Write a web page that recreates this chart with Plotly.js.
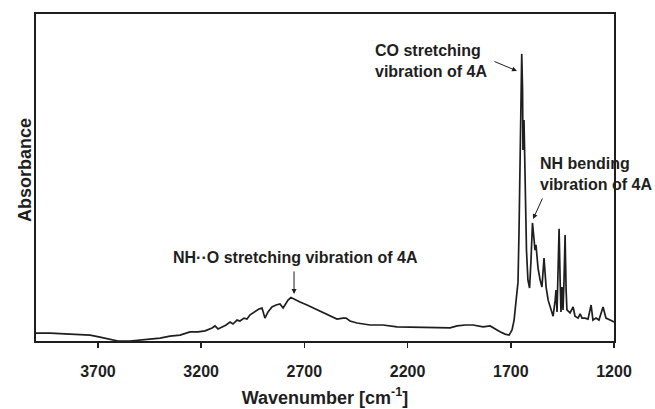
<!DOCTYPE html>
<html>
<head>
<meta charset="utf-8">
<script src="https://cdn.plot.ly/plotly-3.0.1.min.js"></script>
<style>html,body{margin:0;padding:0;background:#fff;}#chart{width:655px;height:409px;}</style>
</head>
<body>
<div id="chart"></div>
<script>
// Wavenumber (cm^-1) and absorbance (arbitrary units)
const wavenumber = [4000,3932,3835,3738,3690,3641,3603,3545,3496,3448,3399,3351,3302,3254,3215,3181,3147,3133,3118,3099,3079,3060,3046,3026,3012,2992,2978,2963,2949,2934,2920,2905,2891,2876,2857,2837,2818,2803,2789,2779,2765,2750,2721,2687,2648,2610,2576,2542,2513,2498,2479,2445,2382,2319,2251,2154,2091,1994,1960,1921,1883,1834,1800,1786,1752,1728,1708,1694,1684,1674,1669,1665,1660,1655,1650,1647,1643,1641,1636,1631,1624,1617,1609,1602,1595,1587,1583,1578,1568,1558,1549,1539,1529,1519,1505,1495,1485,1481,1476,1471,1466,1461,1457,1452,1447,1442,1437,1432,1428,1413,1398,1389,1374,1364,1355,1340,1326,1311,1302,1287,1273,1253,1239,1219,1200];
const absorbance = [0.024,0.024,0.021,0.018,0.012,0.006,0.0,0.0,0.002,0.006,0.009,0.015,0.018,0.028,0.028,0.031,0.040,0.046,0.037,0.043,0.049,0.058,0.052,0.064,0.061,0.070,0.067,0.080,0.086,0.092,0.098,0.101,0.070,0.089,0.104,0.110,0.113,0.101,0.116,0.125,0.133,0.128,0.119,0.110,0.098,0.086,0.076,0.067,0.070,0.070,0.061,0.055,0.049,0.049,0.043,0.041,0.040,0.040,0.046,0.049,0.049,0.043,0.046,0.040,0.028,0.021,0.018,0.034,0.064,0.125,0.171,0.180,0.339,0.584,0.798,0.878,0.768,0.584,0.676,0.492,0.278,0.187,0.162,0.248,0.361,0.309,0.278,0.294,0.223,0.187,0.165,0.254,0.165,0.125,0.095,0.076,0.125,0.156,0.089,0.187,0.343,0.187,0.089,0.165,0.095,0.187,0.324,0.156,0.095,0.086,0.104,0.076,0.070,0.083,0.070,0.070,0.067,0.110,0.064,0.070,0.064,0.104,0.070,0.064,0.058];
const tickValues = [3700,3200,2700,2200,1700,1200];
const tickLabels = ['3700','3200','2700','2200','1700','1200'];

const FONT = 'Liberation Sans, Arial, sans-serif';
const INK = '#1e1e1e';

const trace = {
  x: wavenumber, y: absorbance, type: 'scatter', mode: 'lines',
  line: {color: INK, width: 1.7}, hoverinfo: 'skip'
};

const textAnn = (x, y, text, xanchor, align) => ({
  x, y, xref: 'x', yref: 'y', text, showarrow: false, xanchor, yanchor: 'middle', align,
  font: {family: FONT, size: 16, color: INK, weight: 'bold'}
});
const arrowAnn = (x, y, ax, ay) => ({
  x, y, xref: 'x', yref: 'y', text: '', showarrow: true, ax, ay,
  arrowhead: 2, arrowsize: 1, arrowwidth: 1, arrowcolor: INK, standoff: 0
});

const layout = {
  width: 655, height: 409,
  margin: {l: 36, r: 41, t: 14, b: 68},
  paper_bgcolor: '#fff', plot_bgcolor: '#fff',
  showlegend: false,
  font: {family: FONT, color: INK},
  xaxis: {
    range: [4000, 1200], showgrid: false, zeroline: false,
    showline: true, linecolor: INK, linewidth: 2, mirror: true,
    ticks: 'outside', ticklen: 5, tickwidth: 1.5, tickcolor: INK,
    ticklabelstandoff: 10,
    tickvals: tickValues, ticktext: tickLabels,
    tickfont: {family: FONT, size: 16, color: INK, weight: 'bold'},
    title: {text: 'Wavenumber [cm<sup>-1</sup>]', standoff: 12,
            font: {family: FONT, size: 18, color: INK, weight: 'bold'}}
  },
  yaxis: {
    range: [0, 1], showgrid: false, zeroline: false,
    showline: true, linecolor: INK, linewidth: 2, mirror: true,
    ticks: '', showticklabels: false
  },
  annotations: [
    {x: 25, y: 170, xref: 'paper', yref: 'paper', text: 'Absorbance', showarrow: false,
     textangle: -90, xanchor: 'center', yanchor: 'middle',
     font: {family: FONT, size: 18, color: INK, weight: 'bold'}},
    textAnn(2367, 0.856, 'CO stretching<br>vibration of 4A', 'left', 'left'),
    arrowAnn(1670, 0.826, -24, -10),
    textAnn(1568, 0.511, 'NH bending<br>vibration of 4A', 'left', 'left'),
    arrowAnn(1592, 0.373, 10, -22),
    textAnn(2745, 0.254, 'NH\u00b7\u00b7O stretching vibration of 4A', 'center', 'center'),
    arrowAnn(2750, 0.144, 0, -24)
  ]
};
// convert the y-title pixel position to paper coordinates
const pw = 655 - 36 - 41, ph = 409 - 14 - 68;
layout.annotations[0].x = (25 - 36) / pw;
layout.annotations[0].y = (409 - 68 - 170) / ph;

Plotly.newPlot('chart', [trace], layout, {displayModeBar: false, staticPlot: true});
</script>
</body>
</html>
